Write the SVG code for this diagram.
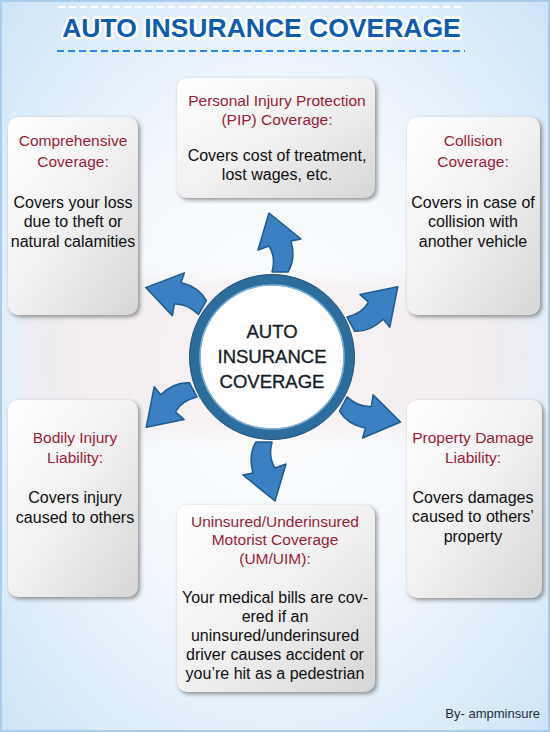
<svg xmlns="http://www.w3.org/2000/svg" width="550" height="732" viewBox="0 0 550 732">
<defs>
<radialGradient id="bg" cx="0.5" cy="0.5" r="0.75">
<stop offset="0" stop-color="#ffffff"/>
<stop offset="0.45" stop-color="#f3f8fd"/>
<stop offset="1" stop-color="#c9e2f6"/>
</radialGradient>
<linearGradient id="boxg" x1="0" y1="0" x2="1" y2="1">
<stop offset="0" stop-color="#ffffff"/>
<stop offset="0.5" stop-color="#f1f1f1"/>
<stop offset="1" stop-color="#d6d6d6"/>
</linearGradient>
<linearGradient id="sep" x1="0" y1="0" x2="1" y2="0">
<stop offset="0" stop-color="#8fbcd8" stop-opacity="0.4"/>
<stop offset="0.5" stop-color="#4f93c0"/>
<stop offset="1" stop-color="#8fbcd8" stop-opacity="0.4"/>
</linearGradient>
<filter id="sh" x="-10%" y="-10%" width="125%" height="125%">
<feGaussianBlur stdDeviation="2"/>
</filter>
<filter id="soft" x="-10%" y="-20%" width="120%" height="140%">
<feGaussianBlur stdDeviation="10"/>
</filter>
<path id="arr" d="M -3,-144 L 29,-118 L 19,-116 Q 24,-98 16,-85 L 0,-85 Q 4,-100 -3,-111 L -14,-107 Z"/>
</defs>
<style>
.box{fill:url(#boxg);}
.shadow{fill:#3a3a3a;opacity:0.55;filter:url(#sh);}
.hd{font-family:"Liberation Sans",Arial,sans-serif;font-size:15.5px;fill:#9a1c35;text-anchor:middle;}
.bd{font-family:"Liberation Sans",Arial,sans-serif;font-size:16px;fill:#0d0d0d;text-anchor:middle;}
.sp{stroke:url(#sep);stroke-width:2;}
.arrow{fill:#3a80c2;stroke:#1e5a8c;stroke-width:1.5;stroke-linejoin:round;}
.ct{font-family:"Liberation Sans",Arial,sans-serif;font-size:18.5px;fill:#141c28;stroke:#141c28;stroke-width:0.35;text-anchor:middle;}
</style>
<rect x="0" y="0" width="550" height="732" fill="url(#bg)"/>
<rect x="1" y="1" width="548" height="730" fill="none" stroke="#a8cdec" stroke-width="2"/>
<rect x="20" y="280" width="510" height="155" rx="60" fill="#f3e6e6" opacity="0.5" filter="url(#soft)"/>
<g id="title">
<line x1="58" y1="7" x2="465" y2="7" stroke="#ffffff" stroke-width="2" stroke-dasharray="7,4"/>
<text x="261.5" y="37" font-family="Liberation Sans,Arial,sans-serif" font-size="26.5" font-weight="bold" fill="#0d5cae" stroke="#ffffff" stroke-width="5" stroke-linejoin="round" paint-order="stroke" text-anchor="middle">AUTO INSURANCE COVERAGE</text>
<line x1="57" y1="51" x2="465" y2="51" stroke="#2a8ae0" stroke-width="2" stroke-dasharray="7,4"/>
</g>
<g id="connectors" transform="translate(272,357)">
<use href="#arr" class="arrow"/>
<use href="#arr" class="arrow" transform="rotate(-60)"/>
<use href="#arr" class="arrow" transform="rotate(62)"/>
<use href="#arr" class="arrow" transform="rotate(-118)"/>
<use href="#arr" class="arrow" transform="rotate(118)"/>
<use href="#arr" class="arrow" transform="rotate(180)"/>
</g>
<g id="center">
<circle cx="272" cy="357" r="76" fill="#ffffff"/>
<circle cx="272" cy="357" r="77" fill="none" stroke="#2d6d9d" stroke-width="11"/>
<circle cx="272" cy="357" r="82.5" fill="none" stroke="#1d4f78" stroke-width="1"/>
<circle cx="272" cy="357" r="72" fill="none" stroke="#7fb3da" stroke-width="1.5"/>
<text class="ct" x="272" y="338">AUTO</text>
<text class="ct" x="272" y="363">INSURANCE</text>
<text class="ct" x="272" y="388">COVERAGE</text>
</g>
<g id="pip">
<rect class="shadow" x="179" y="80" width="198" height="120" rx="10"/>
<rect class="box" x="177" y="78" width="198" height="120" rx="10"/>
<text class="hd" x="277" y="106">Personal Injury Protection</text>
<text class="hd" x="277" y="125">(PIP) Coverage:</text>
<line class="sp" x1="180" y1="137" x2="372" y2="137"/>
<text class="bd" x="277" y="161">Covers cost of treatment,</text>
<text class="bd" x="277" y="180">lost wages, etc.</text>
</g>
<g id="comprehensive">
<rect class="shadow" x="10" y="119" width="130" height="198" rx="10"/>
<rect class="box" x="8" y="117" width="130" height="198" rx="10"/>
<text class="hd" x="73" y="146">Comprehensive</text>
<text class="hd" x="73" y="167">Coverage:</text>
<line class="sp" x1="11" y1="179" x2="135" y2="179"/>
<text class="bd" x="73" y="208">Covers your loss</text>
<text class="bd" x="73" y="227">due to theft or</text>
<text class="bd" x="73" y="247">natural calamities</text>
</g>
<g id="collision">
<rect class="shadow" x="409" y="119" width="133" height="198" rx="10"/>
<rect class="box" x="407" y="117" width="133" height="198" rx="10"/>
<text class="hd" x="473" y="146">Collision</text>
<text class="hd" x="473" y="167">Coverage:</text>
<line class="sp" x1="410" y1="179" x2="537" y2="179"/>
<text class="bd" x="473" y="208">Covers in case of</text>
<text class="bd" x="473" y="227">collision with</text>
<text class="bd" x="473" y="247">another vehicle</text>
</g>
<g id="bodily">
<rect class="shadow" x="10" y="402" width="130" height="197" rx="10"/>
<rect class="box" x="8" y="400" width="130" height="197" rx="10"/>
<text class="hd" x="75" y="443">Bodily Injury</text>
<text class="hd" x="75" y="463">Liability:</text>
<line class="sp" x1="11" y1="473" x2="135" y2="473"/>
<text class="bd" x="75" y="503">Covers injury</text>
<text class="bd" x="75" y="523">caused to others</text>
</g>
<g id="property">
<rect class="shadow" x="409" y="402" width="135" height="198" rx="10"/>
<rect class="box" x="407" y="400" width="135" height="198" rx="10"/>
<text class="hd" x="473" y="443">Property Damage</text>
<text class="hd" x="473" y="463">Liability:</text>
<line class="sp" x1="410" y1="473" x2="539" y2="473"/>
<text class="bd" x="473" y="503">Covers damages</text>
<text class="bd" x="473" y="522">caused to others’</text>
<text class="bd" x="473" y="542">property</text>
</g>
<g id="um">
<rect class="shadow" x="179" y="507" width="198" height="187" rx="10"/>
<rect class="box" x="177" y="505" width="198" height="187" rx="10"/>
<text class="hd" x="275" y="527">Uninsured/Underinsured</text>
<text class="hd" x="275" y="545">Motorist Coverage</text>
<text class="hd" x="275" y="564">(UM/UIM):</text>
<line class="sp" x1="180" y1="575" x2="372" y2="575"/>
<text class="bd" x="275" y="603">Your medical bills are cov-</text>
<text class="bd" x="275" y="622">ered if an</text>
<text class="bd" x="275" y="641">uninsured/underinsured</text>
<text class="bd" x="275" y="660">driver causes accident or</text>
<text class="bd" x="275" y="679">you’re hit as a pedestrian</text>
</g>
<text x="540" y="718" font-family="Liberation Sans,Arial,sans-serif" font-size="13" fill="#1c2a3a" text-anchor="end">By- ampminsure</text>
</svg>
